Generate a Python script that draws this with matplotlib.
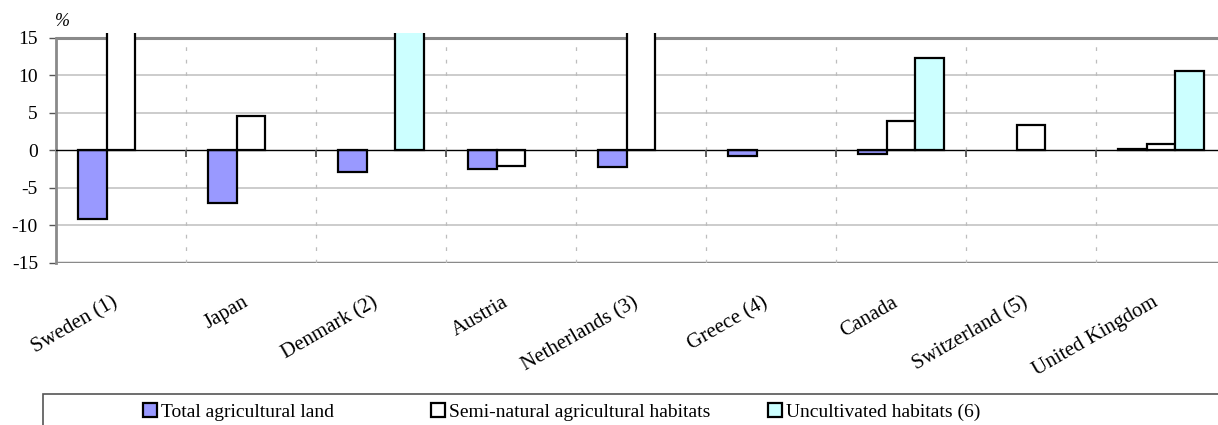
import numpy as np
import matplotlib.pyplot as plt
from matplotlib.patches import Patch, Rectangle
from matplotlib.transforms import ScaledTranslation

plt.rcParams['font.family'] = ['Liberation Serif', 'DejaVu Serif']

# Change in area of habitats, % (values beyond +15 run off the chart)
countries = ['Sweden (1)', 'Japan', 'Denmark (2)', 'Austria', 'Netherlands (3)',
             'Greece (4)', 'Canada', 'Switzerland (5)', 'United Kingdom']
total_agri = [-9.2, -7.1, -2.9, -2.5, -2.3, -0.8, -0.5, np.nan, 0.2]
semi_natural = [30.0, 4.6, np.nan, -2.1, 30.0, np.nan, 3.9, 3.4, 0.8]
uncultivated = [np.nan, np.nan, 30.0, np.nan, np.nan, np.nan, 12.3, np.nan, 10.6]
series_names = ['Total agricultural land', 'Semi-natural agricultural habitats',
                'Uncultivated habitats (6)']
colors = ['#9999FF', '#FFFFFF', '#CCFFFF']
yticks = [-15, -10, -5, 0, 5, 10, 15]

fig = plt.figure(figsize=(12.18, 4.25), dpi=100)
W, H = 1218, 425
ax = fig.add_axes([56 / W, (H - 262.5) / H, 1170 / W, (262.5 - 33.3) / H])

n = len(countries)
x = np.arange(n) + 0.5
bw = 0.223
for k, (vals, c) in enumerate(zip([total_agri, semi_natural, uncultivated], colors)):
    ax.bar(x + (k - 1) * bw, vals, width=bw, color=c, edgecolor='black',
           linewidth=1.6, zorder=3)

ax.set_xlim(0, n)
ax.set_ylim(-15, 15.6)

# grid lines
for v in [-10, -5, 5, 10]:
    ax.axhline(v, color='#c8c8c8', lw=1.3, zorder=1)
ax.axhline(15, color='#8a8a8a', lw=2.2, zorder=1)
ax.axhline(-15, color='#8a8a8a', lw=2.5, zorder=1)
ax.axhline(0, color='black', lw=1.0, zorder=4)
for b in range(1, n):
    ax.vlines(b, -15, 15, colors='#bdbdbd', lw=0.9, linestyles=(0, (3, 7)), zorder=1)
    ax.vlines(b, -0.9, 0, colors='#555555', lw=1.3, zorder=4)

for s in ['top', 'right', 'bottom']:
    ax.spines[s].set_visible(False)
ax.spines['left'].set_color('#8a8a8a')
ax.spines['left'].set_linewidth(2)
ax.spines['left'].set_bounds(-15, 15)

ax.set_yticks(yticks)
ax.set_yticklabels([str(v) for v in yticks], fontsize=14)
ax.tick_params(axis='y', length=5, width=1, color='#555555', pad=8)

ax.set_xticks(x)
ax.tick_params(axis='x', length=0, pad=22)
ax.set_xticklabels(countries, rotation=30, ha='right', va='top',
                   rotation_mode='anchor', fontsize=15)
shift = ScaledTranslation(-0.09, 0, fig.dpi_scale_trans)
for lbl in ax.get_xticklabels():
    lbl.set_transform(lbl.get_transform() + shift)

fig.text(55 / W, (H - 21) / H, '%', fontsize=13, style='italic', ha='left', va='center')

# legend box and entries
fig.patches.append(Rectangle((43 / W, -0.1), 2.0, (H - 394) / H + 0.1,
                             transform=fig.transFigure, facecolor='white',
                             edgecolor='#555555', lw=1.2))
legend_x = [143, 431, 768]
for name, c, lx in zip(series_names, colors, legend_x):
    leg = fig.legend([Patch(facecolor=c, edgecolor='black', lw=1.6)], [name],
                     frameon=False, loc='center left', borderaxespad=0, borderpad=0,
                     bbox_to_anchor=(lx / W, 13 / H), fontsize=14, handlelength=0.7,
                     handleheight=0.7, handletextpad=0.25)

fig.savefig('out.png', dpi=100)
